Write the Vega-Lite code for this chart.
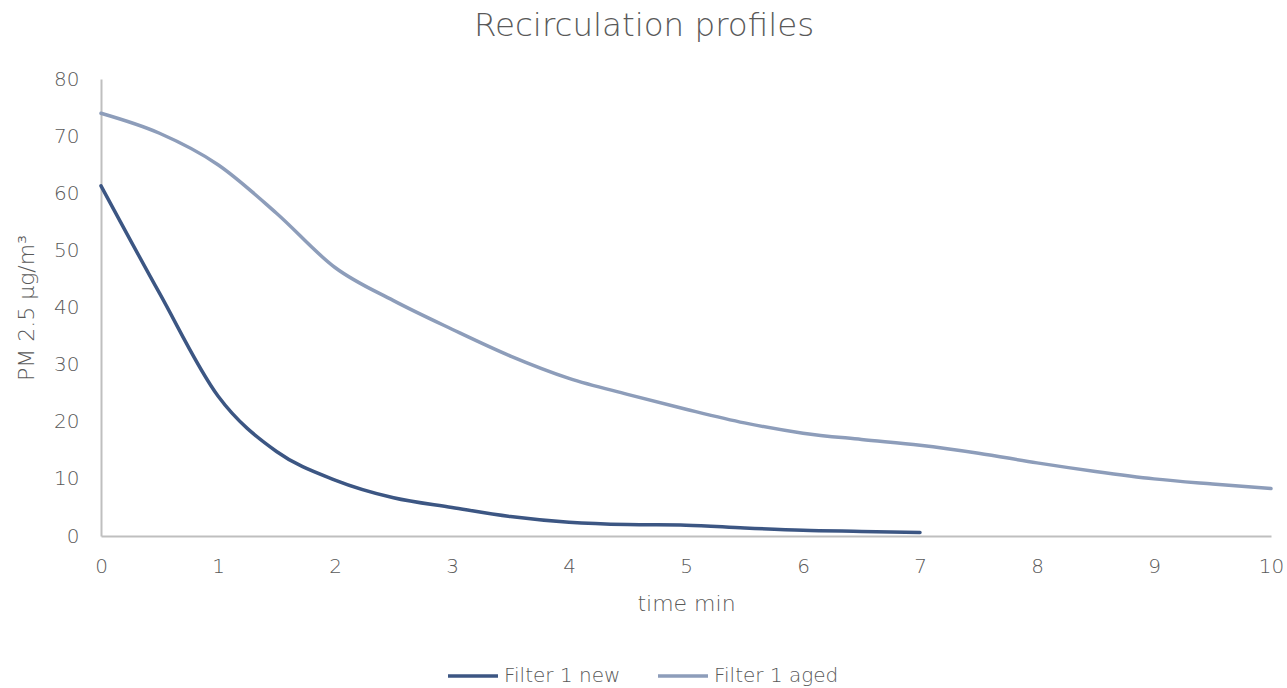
{
  "$schema": "https://vega.github.io/schema/vega-lite/v6.json",
  "width": 1170,
  "height": 457,
  "autosize": {"type": "none"},
  "padding": {"left": 101, "top": 79, "right": 16, "bottom": 152},
  "background": "white",
  "config": {"view": {"stroke": null}},
  "title": {
    "text": "Recirculation profiles",
    "fontSize": 32.5,
    "font": "DejaVu Sans",
    "fontWeight": 300,
    "color": "#595959",
    "anchor": "middle",
    "dx": -42,
    "offset": 27
  },
  "data": {
    "values": [
      {"t": 0, "pm": 61.3, "s": "Filter 1 new"},
      {"t": 0.5, "pm": 42.5, "s": "Filter 1 new"},
      {"t": 1, "pm": 24.5, "s": "Filter 1 new"},
      {"t": 1.5, "pm": 14.8, "s": "Filter 1 new"},
      {"t": 2, "pm": 9.8, "s": "Filter 1 new"},
      {"t": 2.5, "pm": 6.7, "s": "Filter 1 new"},
      {"t": 3, "pm": 5.0, "s": "Filter 1 new"},
      {"t": 3.5, "pm": 3.4, "s": "Filter 1 new"},
      {"t": 4, "pm": 2.4, "s": "Filter 1 new"},
      {"t": 4.5, "pm": 2.0, "s": "Filter 1 new"},
      {"t": 5, "pm": 1.9, "s": "Filter 1 new"},
      {"t": 5.5, "pm": 1.4, "s": "Filter 1 new"},
      {"t": 6, "pm": 1.0, "s": "Filter 1 new"},
      {"t": 6.5, "pm": 0.8, "s": "Filter 1 new"},
      {"t": 7, "pm": 0.6, "s": "Filter 1 new"},
      {"t": 0, "pm": 74.0, "s": "Filter 1 aged"},
      {"t": 0.5, "pm": 70.5, "s": "Filter 1 aged"},
      {"t": 1, "pm": 65.0, "s": "Filter 1 aged"},
      {"t": 1.5, "pm": 56.5, "s": "Filter 1 aged"},
      {"t": 2, "pm": 47.0, "s": "Filter 1 aged"},
      {"t": 2.5, "pm": 41.2, "s": "Filter 1 aged"},
      {"t": 3, "pm": 36.2, "s": "Filter 1 aged"},
      {"t": 3.5, "pm": 31.5, "s": "Filter 1 aged"},
      {"t": 4, "pm": 27.6, "s": "Filter 1 aged"},
      {"t": 4.5, "pm": 24.8, "s": "Filter 1 aged"},
      {"t": 5, "pm": 22.2, "s": "Filter 1 aged"},
      {"t": 5.5, "pm": 19.8, "s": "Filter 1 aged"},
      {"t": 6, "pm": 18.0, "s": "Filter 1 aged"},
      {"t": 6.5, "pm": 16.9, "s": "Filter 1 aged"},
      {"t": 7, "pm": 15.9, "s": "Filter 1 aged"},
      {"t": 7.5, "pm": 14.5, "s": "Filter 1 aged"},
      {"t": 8, "pm": 12.8, "s": "Filter 1 aged"},
      {"t": 8.5, "pm": 11.3, "s": "Filter 1 aged"},
      {"t": 9, "pm": 10.0, "s": "Filter 1 aged"},
      {"t": 9.5, "pm": 9.1, "s": "Filter 1 aged"},
      {"t": 10, "pm": 8.3, "s": "Filter 1 aged"}
    ]
  },
  "mark": {"type": "line", "interpolate": "monotone", "strokeWidth": 3.5, "strokeCap": "round"},
  "encoding": {
    "x": {
      "field": "t",
      "type": "quantitative",
      "scale": {"domain": [0, 10], "nice": false},
      "axis": {
        "title": "time min",
        "values": [0, 1, 2, 3, 4, 5, 6, 7, 8, 9, 10],
        "grid": false,
        "ticks": false,
        "domainColor": "#bfbfbf",
        "domainWidth": 2,
        "labelFont": "DejaVu Sans",
        "labelFontSize": 20,
        "labelFontWeight": 300,
        "labelColor": "#595959",
        "labelPadding": 20,
        "labelFlush": false,
        "titleFont": "DejaVu Sans",
        "titleFontSize": 22,
        "titleFontWeight": 300,
        "titleColor": "#595959",
        "titlePadding": 17
      }
    },
    "y": {
      "field": "pm",
      "type": "quantitative",
      "scale": {"domain": [0, 80], "nice": false},
      "axis": {
        "title": "PM 2.5 µg/m³",
        "values": [0, 10, 20, 30, 40, 50, 60, 70, 80],
        "grid": false,
        "ticks": false,
        "domainColor": "#bfbfbf",
        "domainWidth": 2,
        "labelFont": "DejaVu Sans",
        "labelFontSize": 20,
        "labelFontWeight": 300,
        "labelColor": "#595959",
        "labelPadding": 22,
        "labelFlush": false,
        "titleFont": "DejaVu Sans",
        "titleFontSize": 22,
        "titleFontWeight": 300,
        "titleColor": "#595959",
        "titlePadding": 15
      }
    },
    "color": {
      "field": "s",
      "type": "nominal",
      "sort": ["Filter 1 new", "Filter 1 aged"],
      "scale": {"domain": ["Filter 1 new", "Filter 1 aged"], "range": ["#3c5683", "#8d9dba"]},
      "legend": {
        "title": null,
        "orient": "none",
        "direction": "horizontal",
        "legendX": 345,
        "legendY": 570,
        "symbolType": "stroke",
        "symbolSize": 2500,
        "symbolStrokeWidth": 3.5,
        "labelFont": "DejaVu Sans",
        "labelFontSize": 20,
        "labelFontWeight": 300,
        "labelColor": "#595959",
        "labelOffset": 4,
        "columnPadding": 30
      }
    }
  }
}
